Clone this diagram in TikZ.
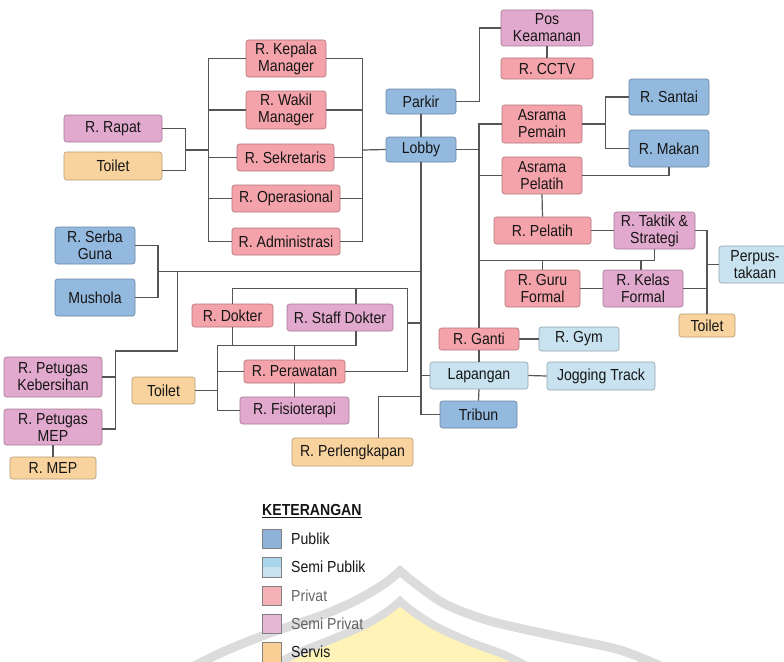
\documentclass[tikz,border=0pt]{standalone}
\usepackage{fontspec}
\setmainfont{Liberation Sans}
\newfontfamily\roomfont[FakeStretch=0.88]{Liberation Sans}
\usetikzlibrary{calc}
\definecolor{pubC}{HTML}{93B9DF}
\definecolor{spubC}{HTML}{C8E2F0}
\definecolor{spubD}{HTML}{A9D6EC}
\definecolor{prvC}{HTML}{F4A3AA}
\definecolor{sprvC}{HTML}{E2A9CE}
\definecolor{srvC}{HTML}{F9D39E}
\definecolor{txtC}{HTML}{161616}
\definecolor{lineC}{HTML}{555555}
\definecolor{wmY}{HTML}{FFF3B8}
\definecolor{wmG}{HTML}{DCDCDC}
\tikzset{
  room/.style={rounded corners=2.5pt, line width=0.6pt, align=center, inner sep=0pt,
    text=txtC, font=\roomfont\fontsize{16}{17}\selectfont},
  pub/.style={room, fill=pubC, draw=pubC!72!black},
  spub/.style={room, fill=spubC, draw=spubC!72!black},
  prv/.style={room, fill=prvC, draw=prvC!72!black},
  sprv/.style={room, fill=sprvC, draw=sprvC!72!black},
  srv/.style={room, fill=srvC, draw=srvC!72!black},
  link/.style={draw=lineC, line width=1.2pt},
  swatch/.style={draw=black!50, line width=0.6pt, minimum width=19.5pt, minimum height=19.5pt, inner sep=0pt},
  legtext/.style={anchor=west, text=txtC, font=\roomfont\fontsize{16}{17}\selectfont, inner sep=0pt},
}
\newcommand\rmbox[7]{\node[#6, minimum width={(#4-#2)*1pt}, minimum height={(#5-#3)*1pt}] (#1) at ({(#2+#4)/2},{(#3+#5)/2}) {#7};}
\begin{document}
\begin{tikzpicture}[x=1pt,y=-1pt]
\useasboundingbox (0,0) rectangle (784,661);
\begin{scope}
\clip (0,0) rectangle (784,661);
% watermark
\fill[wmY] plot[smooth] coordinates {(262,668) (300,651) (335,637) (366,624) (389,610) (400,600)}
  -- plot[smooth] coordinates {(400,600) (411,610) (436,626) (470,641) (505,654) (535,668)} -- cycle;
\draw[wmG, line width=9pt, line join=miter] plot[smooth] coordinates {(190,668) (225,651) (270,633) (320,616) (355,601) (384,584) (400,571)}
  -- plot[smooth] coordinates {(400,571) (416,584) (445,604) (490,621) (560,637) (620,650) (665,668)};
\draw[wmG, line width=8pt, line join=miter] plot[smooth] coordinates {(268,668) (300,652) (335,638) (365,625) (388,611) (400,601)}
  -- plot[smooth] coordinates {(400,601) (412,611) (437,627) (470,642) (505,655) (530,668)};

% rooms
\rmbox{kepala}{246}{40}{326}{77}{prv}{R. Kepala\\Manager}
\rmbox{wakil}{246}{91}{326}{129}{prv}{R. Wakil\\Manager}
\rmbox{sekre}{237}{144}{334}{171}{prv}{R. Sekretaris}
\rmbox{opera}{232}{185}{340}{212}{prv}{R. Operasional}
\rmbox{admin}{232}{228}{340}{255}{prv}{R. Administrasi}
\rmbox{rapat}{64}{115}{162}{142}{sprv}{R. Rapat}
\rmbox{toiletA}{64}{152}{162}{180}{srv}{Toilet}
\rmbox{serba}{55}{227}{135}{264}{pub}{R. Serba\\Guna}
\rmbox{mushola}{55}{279}{135}{316}{pub}{Mushola}
\rmbox{kebersihan}{4}{357}{102}{397}{sprv}{R. Petugas\\Kebersihan}
\rmbox{petmep}{4}{409}{102}{445}{sprv}{R. Petugas\\MEP}
\rmbox{rmep}{10}{457}{96}{479}{srv}{R. MEP}
\rmbox{toiletB}{132}{377}{195}{404}{srv}{Toilet}
\rmbox{dokter}{192}{304}{273}{327}{prv}{R. Dokter}
\rmbox{staff}{287}{304}{393}{331}{sprv}{R. Staff Dokter}
\rmbox{perawatan}{244}{360}{345}{383}{prv}{R. Perawatan}
\rmbox{fisio}{240}{397}{349}{424}{sprv}{R. Fisioterapi}
\rmbox{perleng}{292}{438}{413}{466}{srv}{R. Perlengkapan}
\rmbox{parkir}{386}{89}{456}{114}{pub}{Parkir}
\rmbox{lobby}{386}{137}{456}{162}{pub}{Lobby}
\rmbox{pos}{501}{10}{593}{46}{sprv}{Pos\\Keamanan}
\rmbox{cctv}{501}{58}{593}{79}{prv}{R. CCTV}
\rmbox{pemain}{502}{105}{582}{143}{prv}{Asrama\\Pemain}
\rmbox{apelatih}{502}{157}{582}{194}{prv}{Asrama\\Pelatih}
\rmbox{santai}{629}{79}{709}{115}{pub}{R. Santai}
\rmbox{makan}{629}{130}{709}{167}{pub}{R. Makan}
\rmbox{rpelatih}{494}{217}{591}{244}{prv}{R. Pelatih}
\rmbox{taktik}{614}{212}{695}{249}{sprv}{R. Taktik \&\\Strategi}
\rmbox{perpus}{719}{246}{791}{283}{spub}{Perpus-\\takaan}
\rmbox{guru}{505}{270}{580}{307}{prv}{R. Guru\\Formal}
\rmbox{kelas}{603}{270}{683}{307}{sprv}{R. Kelas\\Formal}
\rmbox{toiletC}{679}{314}{735}{337}{srv}{Toilet}
\rmbox{ganti}{439}{328}{519}{350}{prv}{R. Ganti}
\rmbox{gym}{539}{327}{619}{351}{spub}{R. Gym}
\rmbox{lapangan}{430}{362}{528}{389}{spub}{Lapangan}
\rmbox{jogging}{547}{362}{655}{390}{spub}{Jogging Track}
\rmbox{tribun}{440}{401}{517}{428}{pub}{Tribun}

% junctions
\coordinate (bl) at (208.3,150);
\coordinate (br) at (362.7,150);
\coordinate (bq) at (185.3,150);
\coordinate (pk) at (479.3,101.5);
\coordinate (ps) at (605.7,124);
\coordinate (tg) at (479,260.7);
\coordinate (sm) at (158,271.7);
\coordinate (pa) at (177.7,271.7);
\coordinate (pb) at (115.3,351);
\coordinate (mt) at (407.3,288.7);
\coordinate (mr) at (407.3,323);
\coordinate (mb) at (217.7,345.7);
\coordinate (pl) at (421,396.7);

% links
\draw[link] (kepala.west) -| (bl |- admin.west) -- (admin.west);
\draw[link] (wakil.west) -- (wakil.west -| bl);
\draw[link] (sekre.west) -- (sekre.west -| bl);
\draw[link] (opera.west) -- (opera.west -| bl);
\draw[link] (kepala.east) -| (br |- admin.east) -- (admin.east);
\draw[link] (wakil.east) -- (wakil.east -| br);
\draw[link] (sekre.east) -- (sekre.east -| br);
\draw[link] (opera.east) -- (opera.east -| br);
\draw[link] (bq) -- (bl);
\draw[link] (rapat.east) -| (bq);
\draw[link] ([yshift=-4.7pt]toiletA.east) -| (bq);
\draw[link] (br) -- (lobby.west);
\draw[link] (parkir.south) -- (lobby.north);
\draw[link] (parkir.east) -- (pk) |- (pos.west);
\draw[link] (pos.south) -- (cctv.north);
\draw[link] (pemain.west) -| (ganti.north);
\draw[link] (lobby.east) -- (lobby.east -| ganti.north);
\draw[link] (apelatih.west) -- (apelatih.west -| ganti.north);
\draw[link] (pemain.east) -- (ps);
\draw[link] (santai.west) -| (ps) |- (makan.west);
\draw[link] (apelatih.east) -| (makan.south);
\draw[link] (apelatih.south) -- (rpelatih.north);
\draw[link] (rpelatih.east) -- (taktik.west);
\draw[link] (taktik.east) -| (toiletC.north);
\draw[link] (perpus.west) -- (perpus.west -| toiletC.north);
\draw[link] (kelas.east) -- (kelas.east -| toiletC.north);
\draw[link] (guru.east) -- (kelas.west);
\draw[link] (taktik.south) |- (tg);
\draw[link] (guru.north) -- (guru.north |- tg);
\draw[link] ([xshift=-2pt]kelas.north) -- ([xshift=-2pt]kelas.north |- tg);
\draw[link] (ganti.east) -- (gym.west);
\draw[link] (ganti.south) -- (lapangan.north);
\draw[link] (lapangan.south) -- (tribun.north);
\draw[link] (lapangan.east) -- (jogging.west);
\draw[link] (lobby.south) |- (tribun.west);
\draw[link] (lapangan.west) -- (lapangan.west -| lobby.south);
\draw[link] (serba.east) -| (sm) |- (mushola.east);
\draw[link] (sm) -- (sm -| lobby.south);
\draw[link] (pa) |- (pb) |- ([yshift=-2pt]petmep.east);
\draw[link] (kebersihan.east) -- (kebersihan.east -| pb);
\draw[link] (petmep.south) -- (rmep.north);
\draw[link] (dokter.north) |- (mt) |- (perawatan.east);
\draw[link] ([xshift=16pt]staff.north) -- ([xshift=16pt]staff.north |- mt);
\draw[link] (mr) -- (mr -| lobby.south);
\draw[link] (dokter.south) -- (dokter.south |- mb);
\draw[link] ([xshift=16pt]staff.south) |- (mb) |- (fisio.west);
\draw[link] (perawatan.west) -- (perawatan.west -| mb);
\draw[link] (toiletB.east) -- (toiletB.east -| mb);
\draw[link] (perawatan.north) -- (perawatan.north |- mb);
\draw[link] (perawatan.south) -- (fisio.north);
\draw[link] ([xshift=26pt]perleng.north) |- (pl);

% legend
\node[legtext, font=\roomfont\bfseries\fontsize{16}{17}\selectfont] (legtitle) at (262,511) {\underline{KETERANGAN}};
\node[swatch, fill=pubC!97!black] (s1) at (272,539) {};
\node[swatch, fill=spubD, path picture={\fill[spubC] (path picture bounding box.west) rectangle (path picture bounding box.south east);}] (s2) at (272,567.3) {};
\node[swatch, fill=prvC!85!white] (s3) at (272,596) {};
\node[swatch, fill=sprvC!85!white] (s4) at (272,624) {};
\node[swatch, fill=srvC!95!orange] (s5) at (272,652.3) {};
\node[legtext] (l1) at (291,539) {Publik};
\node[legtext] (l2) at (291,567) {Semi Publik};
\node[legtext, text=black!60] (l3) at (291,596) {Privat};
\node[legtext, text=black!62] (l4) at (291,624) {Semi Privat};
\node[legtext] (l5) at (291,652) {Servis};
\end{scope}
\end{tikzpicture}
\end{document}
